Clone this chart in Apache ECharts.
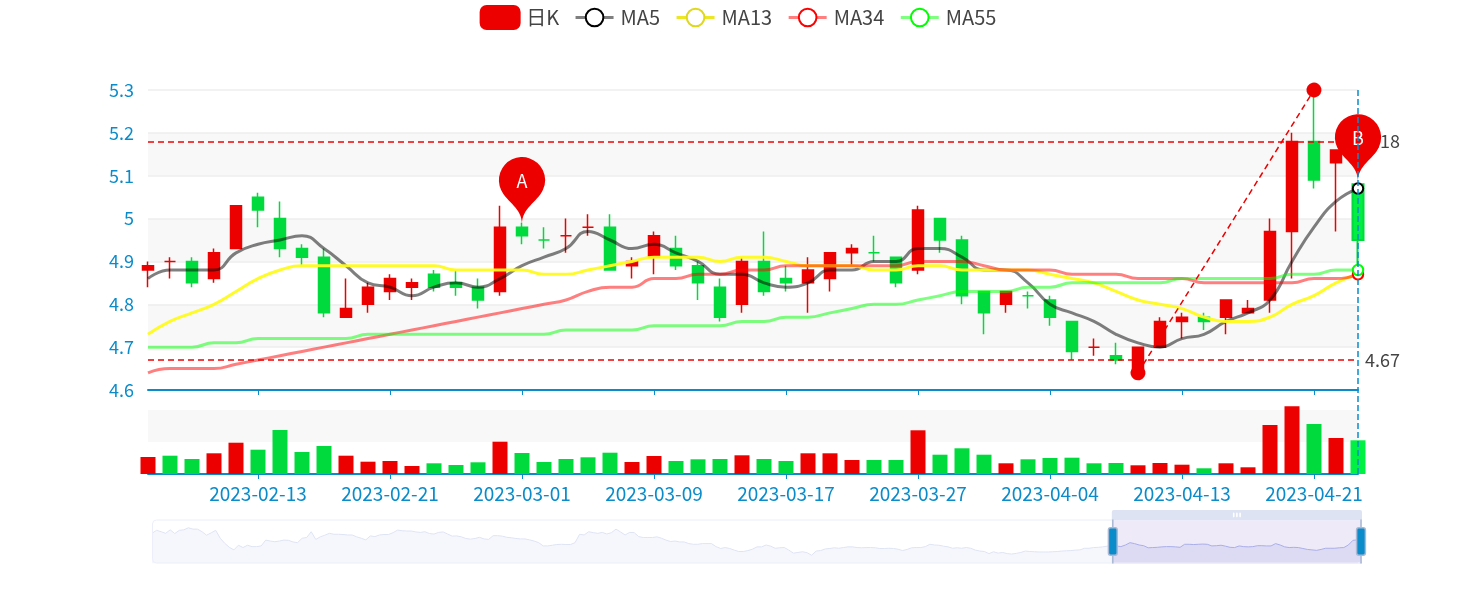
<!DOCTYPE html>
<html>
<head>
<meta charset="utf-8">
<style>html,body{margin:0;padding:0;background:#fff}#c{width:1476px;height:600px}</style>
<script src="https://cdn.jsdelivr.net/npm/echarts@6/dist/echarts.min.js"></script>
</head>
<body>
<div id="c"></div>
<script>
const visibleDates = ['2023-02-06','2023-02-07','2023-02-08','2023-02-09','2023-02-10','2023-02-13','2023-02-14','2023-02-15','2023-02-16','2023-02-17','2023-02-20','2023-02-21','2023-02-22','2023-02-23','2023-02-24','2023-02-27','2023-02-28','2023-03-01','2023-03-02','2023-03-03','2023-03-06','2023-03-07','2023-03-08','2023-03-09','2023-03-10','2023-03-13','2023-03-14','2023-03-15','2023-03-16','2023-03-17','2023-03-20','2023-03-21','2023-03-22','2023-03-23','2023-03-24','2023-03-27','2023-03-28','2023-03-29','2023-03-30','2023-03-31','2023-04-03','2023-04-04','2023-04-06','2023-04-07','2023-04-10','2023-04-11','2023-04-12','2023-04-13','2023-04-14','2023-04-17','2023-04-18','2023-04-19','2023-04-20','2023-04-21','2023-04-24','2023-04-25'];
const opens  = [4.88,4.90,4.90,4.86,4.93,5.05,5.00,4.93,4.91,4.77,4.80,4.83,4.84,4.87,4.85,4.84,4.83,4.98,4.95,4.96,4.98,4.98,4.89,4.91,4.93,4.89,4.84,4.80,4.90,4.86,4.85,4.86,4.92,4.92,4.91,4.88,5.00,4.95,4.83,4.80,4.82,4.81,4.76,4.70,4.68,4.65,4.70,4.76,4.77,4.77,4.78,4.81,4.97,5.18,5.13,5.08];
const closes = [4.89,4.90,4.85,4.92,5.03,5.02,4.93,4.91,4.78,4.79,4.84,4.86,4.85,4.84,4.84,4.81,4.98,4.96,4.95,4.96,4.98,4.88,4.90,4.96,4.89,4.85,4.77,4.90,4.83,4.85,4.88,4.92,4.93,4.92,4.85,5.02,4.95,4.82,4.78,4.83,4.82,4.77,4.69,4.70,4.67,4.70,4.76,4.77,4.76,4.81,4.79,4.97,5.18,5.09,5.16,4.95];
const lows   = [4.84,4.86,4.84,4.85,4.93,4.98,4.91,4.89,4.77,4.77,4.78,4.81,4.81,4.83,4.82,4.79,4.82,4.94,4.93,4.92,4.96,4.88,4.86,4.87,4.88,4.81,4.76,4.78,4.82,4.83,4.78,4.83,4.89,4.90,4.84,4.87,4.92,4.80,4.73,4.78,4.79,4.75,4.67,4.68,4.66,4.64,4.70,4.72,4.74,4.73,4.78,4.78,4.86,5.07,4.97,4.87];
const highs  = [4.90,4.91,4.91,4.93,5.03,5.06,5.04,4.94,4.93,4.86,4.85,4.87,4.86,4.88,4.88,4.86,5.03,4.99,4.98,5.00,5.01,5.01,4.91,4.97,4.96,4.90,4.86,4.91,4.97,4.89,4.91,4.92,4.94,4.96,4.91,5.03,5.00,4.96,4.83,4.83,4.83,4.82,4.76,4.72,4.71,4.70,4.77,4.78,4.78,4.81,4.81,5.00,5.20,5.30,5.16,5.08];
const volumes = [1700,1830,1500,2070,3130,2430,4400,2200,2800,1830,1230,1300,800,1070,900,1170,3230,2100,1200,1500,1670,2130,1200,1800,1300,1470,1500,1870,1500,1300,2070,2070,1400,1400,1400,4370,1930,2570,1930,1070,1470,1600,1630,1070,1100,870,1100,930,570,1070,670,4900,6770,5000,3600,3370];
const ma5  = [4.86,4.88,4.88,4.88,4.92,4.94,4.95,4.96,4.93,4.89,4.85,4.84,4.82,4.84,4.85,4.84,4.86,4.89,4.91,4.93,4.97,4.95,4.93,4.94,4.92,4.90,4.87,4.87,4.85,4.84,4.85,4.88,4.88,4.90,4.90,4.93,4.93,4.91,4.88,4.88,4.85,4.80,4.78,4.76,4.73,4.71,4.70,4.72,4.73,4.76,4.78,4.81,4.90,4.98,5.04,5.07];
const ma13 = [4.73,4.76,4.78,4.80,4.83,4.86,4.88,4.89,4.89,4.89,4.89,4.89,4.89,4.89,4.88,4.88,4.88,4.88,4.87,4.87,4.88,4.89,4.90,4.91,4.91,4.91,4.90,4.91,4.91,4.90,4.89,4.89,4.89,4.88,4.88,4.89,4.89,4.88,4.88,4.88,4.88,4.87,4.86,4.85,4.83,4.81,4.80,4.79,4.77,4.76,4.76,4.77,4.80,4.82,4.85,4.87];
const ma34 = [4.64,4.65,4.65,4.65,4.66,4.67,4.68,4.69,4.70,4.71,4.72,4.73,4.74,4.75,4.76,4.77,4.78,4.79,4.80,4.81,4.83,4.84,4.84,4.86,4.86,4.87,4.87,4.88,4.88,4.89,4.89,4.89,4.89,4.89,4.89,4.90,4.90,4.90,4.89,4.88,4.88,4.88,4.87,4.87,4.87,4.86,4.86,4.86,4.85,4.85,4.85,4.85,4.85,4.86,4.86,4.87];
const ma55 = [4.70,4.70,4.70,4.71,4.71,4.72,4.72,4.72,4.72,4.72,4.73,4.73,4.73,4.73,4.73,4.73,4.73,4.73,4.73,4.74,4.74,4.74,4.74,4.75,4.75,4.75,4.75,4.76,4.76,4.77,4.77,4.78,4.79,4.80,4.80,4.81,4.82,4.83,4.83,4.83,4.84,4.84,4.85,4.85,4.85,4.85,4.85,4.86,4.86,4.86,4.86,4.86,4.87,4.87,4.88,4.88];
// Overview strip (267 sessions)
const overview = [
5.37,5.50,5.44,5.37,5.52,5.36,5.50,5.52,5.61,5.55,
5.55,5.44,5.29,5.39,5.50,5.16,4.94,4.77,4.66,4.86,
4.76,4.86,4.80,4.80,4.83,5.08,5.04,5.01,5.04,5.08,
5.07,5.00,4.97,5.16,5.19,5.44,5.11,5.22,5.29,5.37,
5.33,5.33,5.32,5.30,5.30,5.22,5.16,5.09,5.26,5.23,
5.30,5.32,5.32,5.40,5.51,
5.48,5.47,5.47,5.43,5.41,5.44,5.36,5.34,5.41,5.43,
5.34,5.25,5.26,5.22,5.15,5.12,5.15,5.20,5.13,5.11,
5.27,5.27,5.25,5.20,5.18,5.15,5.13,5.13,5.09,5.04,
4.97,4.83,4.83,4.86,4.89,4.90,4.89,4.89,4.97,5.33,
5.30,5.44,5.40,5.37,5.41,5.34,5.40,5.55,5.43,5.30,
5.41,5.40,5.23,5.19,
5.19,5.19,5.22,5.16,5.08,5.02,5.04,5.00,5.00,4.93,
4.90,4.90,4.93,4.93,4.93,4.80,4.72,4.76,4.72,4.65,
4.59,4.59,4.63,4.69,4.79,4.79,4.87,4.82,4.73,4.75,
4.76,4.65,4.52,4.55,4.58,4.54,4.43,
4.61,4.63,4.70,4.72,4.75,4.73,4.76,4.79,4.79,4.76,
4.75,4.76,4.76,4.75,4.72,4.72,4.73,
4.72,4.69,4.63,4.68,4.75,4.76,4.76,4.80,4.90,4.87,
4.86,4.82,4.79,4.73,4.75,4.73,4.76,4.73,4.65,4.61,
4.59,4.50,4.58,4.52,4.55,4.50,4.48,4.51,4.55,4.61,
4.59,4.58,4.57,4.57,4.57,4.58,4.59,4.61,4.62,4.63,
4.65,4.66,4.73,4.73,4.76,4.77,4.79,4.82,
4.86,4.83,4.80,4.87,4.97,4.93,4.87,4.84,4.75,4.76,
4.77,4.79,4.80,4.80,4.79,4.77,4.90,4.90,4.89,4.90,
4.91,4.90,4.83,4.84,4.86,4.82,4.77,4.76,4.83,4.80,
4.79,4.80,4.84,4.84,4.83,4.83,4.93,4.87,4.79,4.76,
4.77,4.76,4.72,4.68,4.66,4.64,4.68,4.73,4.73,4.73,
4.75,4.76,4.87,5.07,5.09,5.09];

const UP = '#ec0000', DOWN = '#00da3c', BLUE = '#0a8ccb', TEXT = '#444';
const FONT = '"Noto Sans CJK SC","Noto Sans",sans-serif';

// earlier trading days, only reachable through the slider
const skipped = overview.length - visibleDates.length;
const earlier = [];
for (let t = Date.UTC(2023, 1, 3); earlier.length < skipped; t -= 86400000) {
  const d = new Date(t);
  if (d.getUTCDay() % 6) earlier.unshift(d.toISOString().slice(0, 10));
}
const categories = earlier.concat(visibleDates);
const pad = arr => new Array(skipped).fill('-').concat(arr);
const candles = new Array(skipped).fill(['-','-','-','-']).concat(opens.map((o, i) => [o, closes[i], lows[i], highs[i]]));
const volumeItems = pad(volumes.map((v, i) => ({ value: v, itemStyle: { color: closes[i] > opens[i] ? UP : DOWN } })));

function maSeries(name, data, ring, line, opacity) {
  return {
    name, type: 'line', data: pad(data), smooth: true, showSymbol: false, symbol: 'emptyCircle', symbolSize: 8,
    itemStyle: { color: ring, borderWidth: 3 },
    lineStyle: { color: line, width: 3, opacity },
    emphasis: { disabled: false, focus: 'none', scale: 1.3, lineStyle: { width: 3 } }
  };
}

const chart = echarts.init(document.getElementById('c'), null, { renderer: 'canvas' });
chart.setOption({
  animation: false,
  textStyle: { fontFamily: FONT },
  legend: {
    top: 0, left: 'center', itemWidth: 38, itemHeight: 22, itemGap: 15,
    data: ['日K', 'MA5', 'MA13', 'MA34', 'MA55'],
    lineStyle: { width: 'inherit', opacity: 'inherit' },
    itemStyle: { borderWidth: 3 },
    textStyle: { fontSize: 20, color: TEXT, fontFamily: FONT, padding: [0, 0, 0, 2] }
  },
  tooltip: { trigger: 'axis', showContent: false, axisPointer: { type: 'none' } },
  grid: [
    { left: 148, width: 1210, top: 90, height: 300 },
    { left: 148, width: 1210, top: 410, height: 64 },
    { left: 148, width: 1210, top: 90, height: 384 }
  ],
  xAxis: [
    { type: 'category', gridIndex: 0, data: categories, boundaryGap: false,
      axisLine: { lineStyle: { color: BLUE, width: 2 } }, axisTick: { interval: 5, length: 5, lineStyle: { color: BLUE } },
      axisLabel: { show: false, interval: 5 }, splitLine: { show: false } },
    { type: 'category', gridIndex: 1, data: categories, boundaryGap: false,
      axisLine: { lineStyle: { color: BLUE, width: 2 } }, axisTick: { interval: 5, length: 5, lineStyle: { color: BLUE } },
      axisLabel: { interval: 5, color: BLUE, fontSize: 19, margin: 10, fontFamily: FONT, hideOverlap: false }, splitLine: { show: false } },
    { type: 'category', gridIndex: 2, data: categories, boundaryGap: false, show: false,
      axisPointer: { show: true, status: 'show', value: categories.length - 1, type: 'line', snap: true, triggerTooltip: false,
        label: { show: false }, lineStyle: { color: BLUE, type: 'dashed', width: 1.5 } } }
  ],
  yAxis: [
    { type: 'value', gridIndex: 0, min: 4.6, max: 5.3, interval: 0.1,
      axisLine: { show: false }, axisTick: { show: false },
      axisLabel: { color: BLUE, fontSize: 18, margin: 14, fontFamily: FONT, formatter: v => String(+v.toFixed(1)) },
      splitLine: { show: true, lineStyle: { color: '#eeeeee', width: 1.5 } },
      splitArea: { show: true, areaStyle: { color: ['#ffffff', '#f8f8f8'] } } },
    { type: 'value', gridIndex: 1, min: 0, max: 6400, interval: 3200,
      axisLine: { show: false }, axisTick: { show: false }, axisLabel: { show: false }, splitLine: { show: false },
      splitArea: { show: true, areaStyle: { color: ['#ffffff', '#f8f8f8'] } } },
    { type: 'value', gridIndex: 2, min: 0, max: 1, show: false }
  ],
  dataZoom: [{
    type: 'slider', xAxisIndex: [0, 1, 2], startValue: skipped, endValue: categories.length - 1,
    left: 148, right: 118, top: 510, height: 44, borderRadius: 4,
    showDetail: false, moveHandleSize: 10, brushSelect: true,
    borderColor: '#eceefb', backgroundColor: 'rgba(0,0,0,0)',
    fillerColor: 'rgba(170,150,220,0.2)',
    handleStyle: { color: '#0a8ccb', borderColor: '#a9b8d4', borderWidth: 1.5 },
    moveHandleStyle: { color: '#dde3f2', opacity: 1 },
    dataBackground: { lineStyle: { color: '#dfe4f4', width: 1 }, areaStyle: { color: '#e9ecf8', opacity: 0.4 } },
    selectedDataBackground: { lineStyle: { color: '#aab4ec', width: 1 }, areaStyle: { color: '#b8bceb', opacity: 0.3 } }
  }],
  series: [
    { name: 'overview', type: 'line', data: overview, xAxisIndex: 0, yAxisIndex: 0, symbol: 'none', silent: true,
      lineStyle: { opacity: 0, width: 0 }, tooltip: { show: false }, emphasis: { disabled: true } },
    { name: '日K', type: 'candlestick', data: candles, xAxisIndex: 0, yAxisIndex: 0, barWidth: 12, clip: false,
      itemStyle: { color: UP, color0: DOWN, borderColor: UP, borderColor0: DOWN, borderWidth: 1.5 },
      markPoint: {
        symbol: 'pin', symbolSize: 77, z: 8,
        itemStyle: { color: UP },
        label: { color: '#fff', fontSize: 18, fontFamily: FONT, offset: [0, -3] },
        data: [
          { name: 'A', value: 'A', coord: [visibleDates[17], 4.987] },
          { name: 'B', value: 'B', coord: [visibleDates[55], 5.087] }
        ]
      },
      markLine: {
        symbol: ['none', 'none'], silent: true, z: 5,
        lineStyle: { color: '#ee0000', type: [6, 4], width: 1.5 },
        label: { show: true, position: 'end', color: TEXT, fontSize: 18, fontFamily: FONT, distance: 7 },
        data: [
          { yAxis: 5.18, lineStyle: { color: '#ee0000', type: [6, 4], width: 1.5 } },
          { yAxis: 4.67, lineStyle: { color: '#ee0000', type: [6, 4], width: 1.5 } },
          [
            { coord: [visibleDates[45], 4.64], symbol: 'circle', symbolSize: 15, itemStyle: { color: '#ee0000' }, label: { show: false } },
            { coord: [visibleDates[53], 5.30], symbol: 'circle', symbolSize: 15, itemStyle: { color: '#ee0000' }, label: { show: false } }
          ]
        ]
      }
    },
    maSeries('MA5', ma5, '#000000', '#000000', 0.5),
    maSeries('MA13', ma13, '#dfd91a', '#ece51a', 0.95),
    maSeries('MA34', ma34, '#ff0000', '#ff0000', 0.5),
    maSeries('MA55', ma55, '#00ff00', '#00ff00', 0.5),
    { name: '成交量', type: 'bar', xAxisIndex: 1, yAxisIndex: 1, data: volumeItems, barWidth: 15, clip: false,
      emphasis: { itemStyle: { color: '#00f044' } } }
  ]
});
chart.dispatchAction({ type: 'showTip', seriesIndex: 2, dataIndex: categories.length - 1 });
chart.dispatchAction({ type: 'highlight', seriesIndex: 6, dataIndex: categories.length - 1 });
</script>
</body>
</html>
